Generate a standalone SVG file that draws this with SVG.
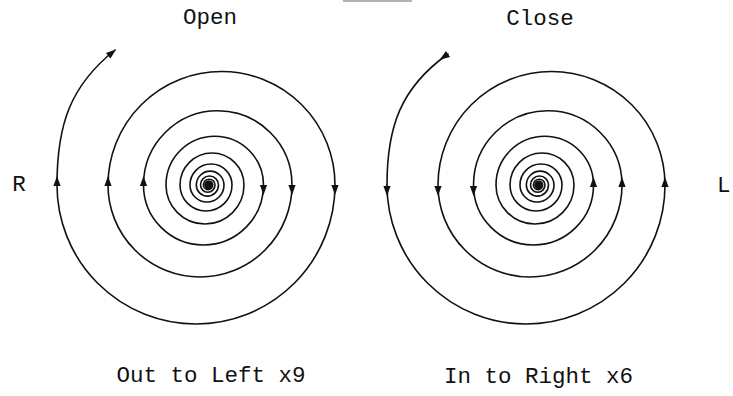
<svg xmlns="http://www.w3.org/2000/svg" xmlns:xlink="http://www.w3.org/1999/xlink" width="733" height="396" viewBox="0 0 733 396">
<style>
.ln{fill:none;stroke:#111;stroke-width:1.6;stroke-linecap:round;stroke-linejoin:round}
.ah{fill:#111}
.t{font-family:"Liberation Mono","Courier New",monospace;font-size:22.5px;fill:#111}
</style>
<defs>
<path id="ah" class="ah" d="M0,0 L-10,-3.6 L-10,3.6 Z"/>
<path id="sp" class="ln" d="M206.6,185 A2.3,2.3 0 0 1 211.2,185 A2.95,2.95 0 0 1 205.3,185 A3.7,3.7 0 0 1 212.7,185 A4.65,4.65 0 0 1 203.4,185 A5.8,5.8 0 0 1 215,185 A7.25,7.25 0 0 1 200.5,185 A9,9 0 0 1 218.5,185 A11.1,11.1 0 0 1 196.3,185 A13.85,13.85 0 0 1 224,185 A17,17 0 0 1 190,185 A21,21 0 0 1 232,185 A26,26 0 0 1 180,185 A32,32 0 0 1 244,185 A39,39 0 0 1 166,185 A48.75,48.75 0 0 1 263.5,185 A60,60 0 0 1 143.5,185 A74.25,74.25 0 0 1 292,185 A92,92 0 0 1 108,185 A113.5,113.5 0 0 1 335,185 A139,139 0 0 1 57,185"/>
</defs>
<line x1="343" y1="1" x2="412" y2="1" stroke="#999" stroke-width="1.5"/>
<g id="open-spiral">
<use xlink:href="#sp" href="#sp"/>
<path class="ln" d="M57,185 C57,125 70,86 115,50"/>
<circle cx="208.7" cy="185" r="4.2" fill="#111"/>
<g id="open-arrows">
<use href="#ah" xlink:href="#ah" transform="translate(116,49.5) rotate(-38.7)"/>
<use href="#ah" xlink:href="#ah" transform="translate(57,176) rotate(-90)"/>
<use href="#ah" xlink:href="#ah" transform="translate(108,176) rotate(-90)"/>
<use href="#ah" xlink:href="#ah" transform="translate(143.5,176) rotate(-90)"/>
<use href="#ah" xlink:href="#ah" transform="translate(263.5,195) rotate(90)"/>
<use href="#ah" xlink:href="#ah" transform="translate(292,195) rotate(90)"/>
<use href="#ah" xlink:href="#ah" transform="translate(335,195) rotate(90)"/>
</g>
</g>
<g id="close-spiral">
<use xlink:href="#sp" href="#sp" transform="translate(330,0)"/>
<path class="ln" d="M387,185 C387,128 400,88 448,54"/>
<circle cx="538.7" cy="185" r="4.2" fill="#111"/>
<g id="close-arrows">
<use href="#ah" xlink:href="#ah" transform="translate(439.8,59.8) rotate(144.7)"/>
<use href="#ah" xlink:href="#ah" transform="translate(387,196) rotate(90)"/>
<use href="#ah" xlink:href="#ah" transform="translate(438,196) rotate(90)"/>
<use href="#ah" xlink:href="#ah" transform="translate(473.5,196) rotate(90)"/>
<use href="#ah" xlink:href="#ah" transform="translate(593.5,177) rotate(-90)"/>
<use href="#ah" xlink:href="#ah" transform="translate(622,177) rotate(-90)"/>
<use href="#ah" xlink:href="#ah" transform="translate(665,177) rotate(-90)"/>
</g>
</g>
<g id="labels">
<text class="t" x="210" y="24" text-anchor="middle">Open</text>
<text class="t" x="540" y="25" text-anchor="middle">Close</text>
<text class="t" x="19" y="191" text-anchor="middle">R</text>
<text class="t" x="717" y="192">L</text>
<text class="t" x="211" y="382" text-anchor="middle">Out to Left x9</text>
<text class="t" x="538.5" y="383" text-anchor="middle">In to Right x6</text>
</g>
</svg>
